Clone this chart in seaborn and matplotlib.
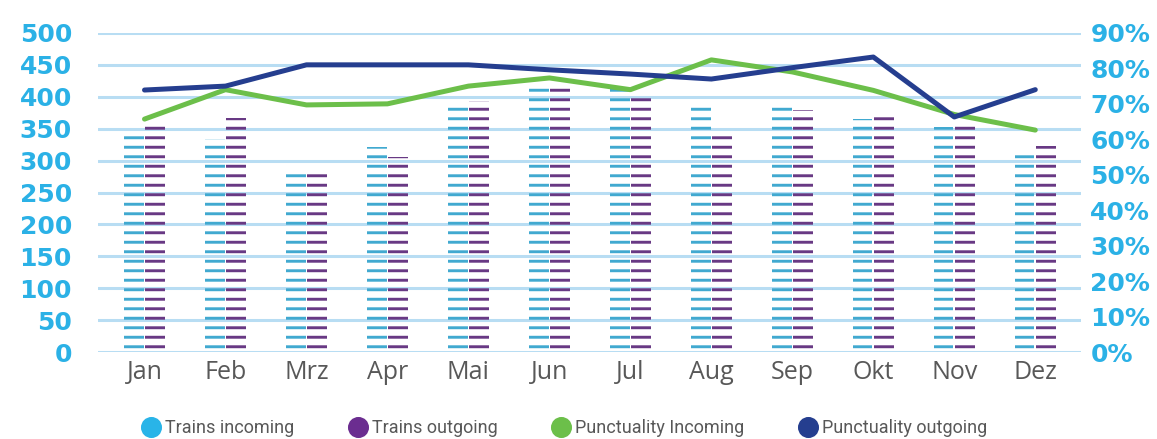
import numpy as np
import pandas as pd
import matplotlib.pyplot as plt
import seaborn as sns
from matplotlib.ticker import PercentFormatter
from matplotlib.lines import Line2D

months = ["Jan", "Feb", "Mrz", "Apr", "Mai", "Jun", "Jul", "Aug", "Sep", "Okt", "Nov", "Dez"]
trains_in = [345, 334, 285, 321, 389, 415, 415, 384, 389, 365, 352, 315]
trains_out = [357, 367, 280, 305, 393, 420, 401, 338, 379, 370, 355, 323]
punct_in = [65.7, 74.0, 69.7, 70.0, 75.0, 77.3, 74.0, 82.4, 79.0, 73.8, 67.0, 62.6]
punct_out = [73.9, 75.0, 81.0, 81.0, 81.0, 79.6, 78.4, 77.0, 80.2, 83.2, 66.3, 74.0]

labels = ["Trains incoming", "Trains outgoing", "Punctuality Incoming", "Punctuality outgoing"]
c_in, c_out, c_green, c_navy = "#29B4E8", "#6B2D90", "#6CBF4A", "#253E8F"
tick_blue = "#2BB1E6"
grid_blue = "#B8DDF3"
gray = "#585858"

# dpi chosen so the hatch dashes get the spacing of the original
DPI = 114
S = 100 / DPI

sns.set_style("white")
plt.rcParams["font.family"] = ["DejaVu Sans"]
plt.rcParams["hatch.linewidth"] = 2.1 * S

df = pd.DataFrame({
    "month": months * 2,
    "trains": trains_in + trains_out,
    "series": [labels[0]] * 12 + [labels[1]] * 12,
})

fig = plt.figure(figsize=(1157 / DPI, 439 / DPI), dpi=DPI)
ax = fig.add_axes([0.085, 0.198, 0.849, 0.727])

sns.barplot(data=df, x="month", y="trains", hue="series", order=months,
            palette=[c_in, c_out], width=0.52, gap=0.08, ax=ax, legend=False)
for p in ax.patches:
    col = p.get_facecolor()
    p.set_hatch("--")
    p.set_facecolor("none")
    p.set_edgecolor(col)
    p.set_linewidth(0)

ax.set_ylim(0, 500)
ax.set_xlim(-0.57, 11.56)
ax.set_yticks(range(0, 501, 50))
ax.yaxis.grid(True, color=grid_blue, linewidth=2.2 * S)
ax.set_axisbelow(True)
ax.set_xlabel("")
ax.set_ylabel("")
ax.tick_params(axis="y", length=0, pad=19 * S, labelsize=18 * S, labelcolor=tick_blue)
ax.tick_params(axis="x", length=0, pad=6 * S, labelcolor=gray)
for t in ax.get_yticklabels():
    t.set_fontweight("bold")
for t in ax.get_xticklabels():
    t.set_family("Open Sans")
    t.set_fontsize(18 * S)
sns.despine(ax=ax, left=True, bottom=True)

ax2 = ax.twinx()
sns.lineplot(x=months, y=punct_in, ax=ax2, color=c_green, linewidth=3.6 * S, sort=False)
sns.lineplot(x=months, y=punct_out, ax=ax2, color=c_navy, linewidth=3.6 * S, sort=False)
ax2.set_ylim(0, 90)
ax2.set_yticks(range(0, 91, 10))
ax2.yaxis.set_major_formatter(PercentFormatter(decimals=0))
ax2.tick_params(axis="y", length=0, pad=7 * S, labelsize=18 * S, labelcolor=tick_blue)
for t in ax2.get_yticklabels():
    t.set_fontweight("bold")
ax2.grid(False)
for s in ax2.spines.values():
    s.set_visible(False)

handles = [Line2D([], [], marker="o", linestyle="none", markersize=14 * S,
                  markerfacecolor=c, markeredgecolor=c)
           for c in [c_in, c_out, c_green, c_navy]]
fig.legend(handles, labels, loc="lower center", bbox_to_anchor=(0.488, -0.033),
           ncol=4, frameon=False, prop={"family": "Roboto", "size": 13 * S},
           labelcolor=gray, handletextpad=0.3, columnspacing=3.0, handlelength=1.0)

fig.savefig("out.png", dpi=DPI)
